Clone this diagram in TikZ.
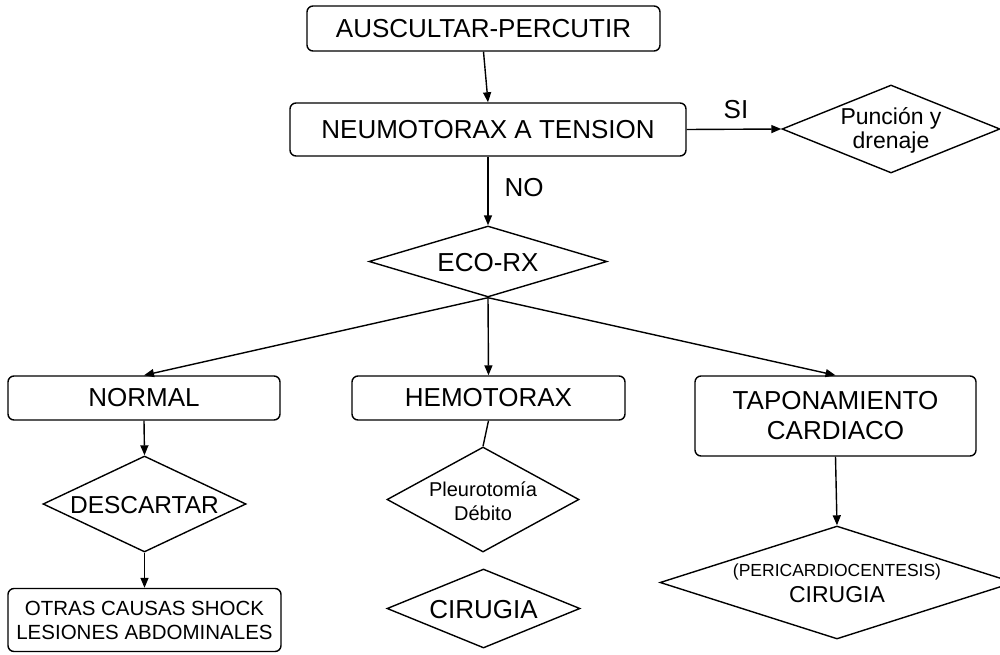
\documentclass[tikz,border=0pt]{standalone}
\usepackage{fontspec}
\setmainfont{Liberation Sans}
\usetikzlibrary{shapes.geometric,arrows.meta}
\newcommand{\zwtext}[2][0pt]{\makebox[0pt]{\raisebox{#1}[0pt][0pt]{\begin{tabular}{@{}c@{}}#2\end{tabular}}}}
\begin{document}
\begin{tikzpicture}[x=1pt,y=-1pt, line width=1.4pt,
  box/.style={draw, rounded corners=6pt, inner sep=0pt, align=center, font=\fontsize{26}{30}\selectfont},
  dia/.style={draw, diamond, inner sep=0pt, font=\fontsize{26}{30}\selectfont},
  arr/.style={-{Triangle[length=10pt,width=8pt]}},
  lbl/.style={font=\fontsize{26}{30}\selectfont, inner sep=0pt}]
\useasboundingbox (0,0) rectangle (1000,655);
\node[box, minimum width=353pt, minimum height=45pt] (ausc) at (483.5,28.5) {AUSCULTAR-PERCUTIR};
\node[box, minimum width=396pt, minimum height=53pt] (neumo) at (488,129.5) {NEUMOTORAX A TENSION};
\node[dia, minimum width=218pt, minimum height=88pt, font=\fontsize{23}{24}\selectfont] (punc) at (891,129) {\zwtext[-8.7pt]{Punción y\\drenaje}};
\node[dia, minimum width=238pt, minimum height=71pt] (eco) at (488,261.5) {\zwtext[-9.8pt]{ECO-RX}};
\node[box, minimum width=272pt, minimum height=44pt] (normal) at (144,398) {NORMAL};
\node[box, minimum width=273pt, minimum height=44pt] (hemo) at (488.5,398) {HEMOTORAX};
\node[box, minimum width=281pt, minimum height=80pt] (tapo) at (835.5,416) {TAPONAMIENTO\\CARDIACO};
\node[dia, minimum width=203pt, minimum height=96pt, font=\fontsize{24.5}{30}\selectfont] (desc) at (144.5,504) {\zwtext[-9.9pt]{DESCARTAR}};
\node[box, minimum width=273pt, minimum height=63pt, font=\fontsize{20.5}{24}\selectfont] (otras) at (144.5,620) {OTRAS CAUSAS SHOCK\\LESIONES ABDOMINALES};
\node[dia, minimum width=192pt, minimum height=105pt, font=\fontsize{20}{24}\selectfont] (pleu) at (483,499.5) {\zwtext[-8.9pt]{Pleurotomía\\Débito}};
\node[dia, minimum width=193pt, minimum height=79pt] (ciru) at (483.5,608.5) {\zwtext[-10.3pt]{CIRUGIA}};
\node[dia, minimum width=354pt, minimum height=113pt, font=\fontsize{23}{26}\selectfont] (peri) at (837,582.5) {\zwtext[-8.3pt]{{\fontsize{17.5}{20}\selectfont (PERICARDIOCENTESIS)}\\CIRUGIA}};
\node[lbl] (si) at (736,110) {SI};
\node[lbl] (no) at (524,188) {NO};
\draw[arr] (ausc.south) -- (neumo.north);
\draw[arr] (neumo.east) -- (punc.west);
\draw[arr] (neumo.south) -- (eco.north);
\draw[arr] (eco.south) -- (normal.north);
\draw[arr] (eco.south) -- (hemo.north);
\draw[arr] (eco.south) -- (tapo.north);
\draw (hemo.south) -- (pleu.north);
\draw[arr] (normal.south) -- (desc.north);
\draw[arr] (desc.south) -- (otras.north);
\draw[arr] (tapo.south) -- (peri.north);
\end{tikzpicture}
\end{document}
